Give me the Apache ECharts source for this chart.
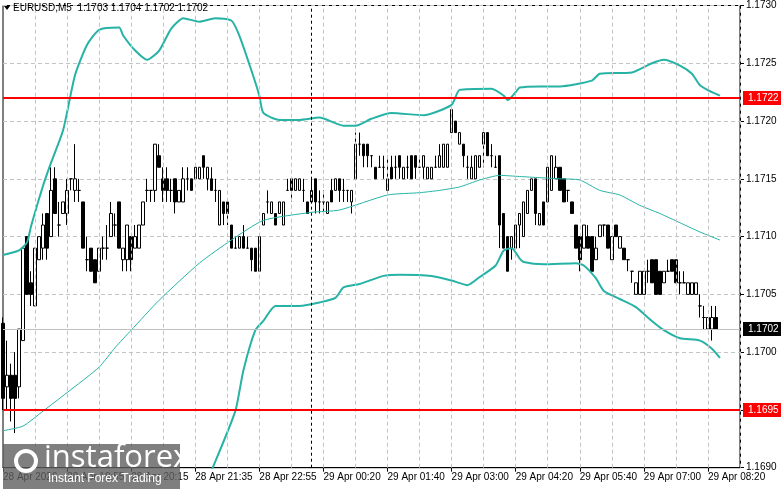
<!DOCTYPE html>
<html><head><meta charset="utf-8">
<script src="https://cdn.jsdelivr.net/npm/echarts@6/dist/echarts.min.js"></script>
<style>html,body{margin:0;padding:0;background:#fff}#c{width:781px;height:489px}</style>
</head><body><div id="c"></div>
<script>
// [open, close, low, high]
const ohlc = [
[1.17025,1.1696,1.1695,1.1703],[1.1697,1.1698,1.1695,1.1701],[1.1698,1.1696,1.1694,1.1699],[1.1698,1.1696,1.1693,1.1700],
[1.1697,1.1702,1.1696,1.1702],[1.1701,1.1709,1.1701,1.1709],[1.1710,1.1705,1.1705,1.1710],[1.1706,1.1705,1.1704,1.1707],
[1.1704,1.1709,1.1704,1.1709],[1.1708,1.1710,1.1708,1.1710],[1.1709,1.1711,1.1708,1.1712],[1.1712,1.1709,1.1708,1.1712],
[1.1710,1.1714,1.1710,1.1716],[1.1715,1.1712,1.1712,1.1716],[1.1711,1.1711,1.1710,1.1713],[1.1712,1.1713,1.1712,1.1713],
[1.1712,1.1714,1.1711,1.1715],[1.1715,1.1715,1.1714,1.1715],[1.1714,1.1715,1.1713,1.1718],[1.1714,1.1714,1.1713,1.1715],
[1.1713,1.1709,1.1709,1.1713],[1.1708,1.1708,1.1707,1.1710],[1.1709,1.1707,1.1707,1.1709],[1.1708,1.1706,1.1706,1.1708],
[1.1707,1.1709,1.1707,1.1709],[1.1709,1.1709,1.1708,1.1710],[1.1709,1.1709,1.1708,1.1711],[1.1710,1.1712,1.1710,1.1713],
[1.1711,1.1711,1.1710,1.1712],[1.1713,1.1709,1.1709,1.1713],[1.1708,1.1709,1.1707,1.1709],[1.1708,1.1711,1.1707,1.1711],
[1.1710,1.1708,1.1707,1.1710],[1.1709,1.1710,1.1709,1.1711],[1.1709,1.1711,1.1709,1.1711],[1.1711,1.1713,1.1711,1.1713],
[1.1714,1.1714,1.1713,1.1715],[1.1714,1.1714,1.1713,1.1714],[1.1714,1.1718,1.1713,1.1718],[1.1717,1.1716,1.1716,1.1718],
[1.1715,1.1714,1.1713,1.1716],[1.1715,1.1714,1.1713,1.1716],[1.1714,1.1714,1.1713,1.1715],[1.1715,1.1713,1.1712,1.1715],
[1.1713,1.1714,1.1713,1.1714],[1.1713,1.1715,1.1713,1.1716],[1.1715,1.1715,1.1714,1.1716],[1.1715,1.1714,1.1714,1.1715],
[1.1715,1.1716,1.1715,1.1716],[1.1715,1.1716,1.1715,1.1716],[1.1717,1.1716,1.1715,1.1717],[1.1715,1.1716,1.1714,1.1716],
[1.1715,1.1714,1.1714,1.1716],[1.1714,1.1714,1.1713,1.1715],[1.1711,1.1714,1.1711,1.1714],[1.1713,1.1712,1.1711,1.1713],
[1.1713,1.1712,1.1711,1.1713],[1.1711,1.1709,1.1709,1.1711],[1.1709,1.1709,1.1709,1.1710],[1.1709,1.1710,1.1709,1.1710],
[1.1710,1.1709,1.1709,1.1711],[1.1709,1.1709,1.1709,1.1710],[1.1709,1.1708,1.1707,1.1709],[1.1709,1.1707,1.1707,1.1709],
[1.1707,1.1710,1.1707,1.1710],[1.1711,1.1712,1.1711,1.1712],[1.1713,1.1713,1.1712,1.1714],[1.1712,1.1713,1.1712,1.1713],
[1.1712,1.1711,1.1711,1.1712],[1.1712,1.1713,1.1712,1.1713],[1.1711,1.1713,1.1711,1.1713],[1.1714,1.1714,1.1714,1.1715],
[1.1715,1.1714,1.1713,1.1715],[1.1714,1.1715,1.1714,1.1715],[1.1714,1.1715,1.1714,1.1715],[1.1714,1.1714,1.1713,1.1715],
[1.1713,1.1712,1.1712,1.1713],[1.1713,1.1714,1.1713,1.1715],[1.1715,1.1713,1.1712,1.1715],[1.1713,1.1713,1.1712,1.1714],
[1.1713,1.1713,1.1712,1.1714],[1.1712,1.1713,1.1712,1.1713],[1.1714,1.1713,1.1713,1.1715],[1.1714,1.1715,1.1714,1.1715],
[1.1715,1.1714,1.1713,1.1715],[1.1714,1.1714,1.1713,1.1715],[1.1714,1.1714,1.1713,1.1714],[1.1713,1.1714,1.1712,1.1714],
[1.1715,1.1718,1.1715,1.1719],[1.1718,1.1718,1.1717,1.1719],[1.1718,1.1717,1.1716,1.1718],[1.1718,1.1717,1.1716,1.1718],
[1.1717,1.1717,1.1716,1.1717],[1.1716,1.1715,1.1715,1.1716],[1.1716,1.1716,1.1716,1.1717],[1.1716,1.1716,1.1715,1.1717],
[1.1714,1.1715,1.1714,1.1717],[1.1716,1.1715,1.1715,1.1717],[1.1716,1.1716,1.1715,1.1717],[1.1717,1.1716,1.1715,1.1717],
[1.1715,1.1716,1.1715,1.1716],[1.1716,1.1716,1.1715,1.1717],[1.1717,1.1715,1.1715,1.1717],[1.1717,1.1716,1.1715,1.1717],
[1.1716,1.1716,1.1716,1.1717],[1.1716,1.1717,1.1715,1.1717],[1.1715,1.1716,1.1715,1.1716],[1.1715,1.1716,1.1715,1.1716],
[1.1716,1.1716,1.1716,1.1717],[1.1716,1.1717,1.1716,1.1718],[1.1716,1.1718,1.1716,1.1718],[1.1716,1.1718,1.1716,1.1718],
[1.1719,1.1721,1.1719,1.1721],[1.1720,1.1719,1.1719,1.1720],[1.1718,1.1719,1.1718,1.1719],[1.1718,1.1717,1.1716,1.1718],
[1.1716,1.1716,1.1715,1.1717],[1.1715,1.1716,1.1715,1.1717],[1.1715,1.1717,1.1715,1.1717],[1.1716,1.1717,1.1716,1.1717],
[1.1718,1.1719,1.1716,1.1719],[1.1719,1.1717,1.1717,1.1719],[1.1717,1.1717,1.1716,1.1718],[1.1716,1.1716,1.1716,1.1717],
[1.1717,1.1711,1.1709,1.1717],[1.1712,1.1709,1.1709,1.1712],[1.1710,1.1707,1.1707,1.1710],[1.1709,1.1710,1.1708,1.1710],
[1.1709,1.1711,1.1709,1.1711],[1.1711,1.1712,1.1709,1.1712],[1.1710,1.1713,1.1710,1.1713],[1.1712,1.1714,1.1712,1.1714],
[1.1714,1.1715,1.1714,1.1715],[1.1715,1.1712,1.1711,1.1715],[1.1711,1.1712,1.1711,1.1712],[1.1713,1.1711,1.1711,1.1713],
[1.1713,1.1716,1.1713,1.1716],[1.1714,1.1717,1.1714,1.1717],[1.1715,1.1716,1.1715,1.1717],[1.1716,1.1714,1.1714,1.1716],
[1.1715,1.1713,1.1713,1.1715],[1.1714,1.1714,1.1713,1.1714],[1.1713,1.1712,1.1712,1.1713],[1.1711,1.1709,1.1709,1.1711],
[1.1710,1.1708,1.1707,1.1710],[1.1709,1.1711,1.1709,1.1711],[1.1710,1.1709,1.1709,1.1711],[1.1710,1.1707,1.1707,1.1710],
[1.1708,1.1709,1.1708,1.1710],[1.1710,1.1711,1.1710,1.1711],[1.1711,1.1711,1.1710,1.1711],[1.1711,1.1709,1.1709,1.1711],
[1.1708,1.1710,1.1708,1.1710],[1.1711,1.1710,1.1710,1.1711],[1.1709,1.1710,1.1709,1.1710],[1.1709,1.1708,1.1708,1.1709],
[1.1708,1.1708,1.1707,1.1708],[1.1707,1.1707,1.1706,1.1707],[1.1705,1.1706,1.1705,1.1706],[1.1705,1.1707,1.1705,1.1707],
[1.1705,1.1707,1.1705,1.1707],[1.1707,1.1707,1.1706,1.1708],[1.1708,1.1706,1.1706,1.1708],[1.1708,1.1705,1.1705,1.1708],
[1.1707,1.1705,1.1705,1.1707],[1.1706,1.1707,1.1706,1.1707],[1.1707,1.1707,1.1707,1.1708],[1.1708,1.1707,1.1707,1.1708],
[1.1708,1.1706,1.1706,1.1708],[1.1706,1.1706,1.1705,1.1707],[1.1706,1.1706,1.1706,1.1707],[1.1705,1.1706,1.1705,1.1706],
[1.1705,1.1706,1.1705,1.1706],[1.1705,1.1706,1.1705,1.1706],[1.1704,1.1704,1.1703,1.1705],[1.1703,1.1703,1.1702,1.1704],
[1.1702,1.1703,1.1702,1.1703],[1.1702,1.1703,1.1701,1.1704],[1.1703,1.1702,1.1702,1.1704]
];
const upperBand = [[0,1.17084],[4,1.17088],[6,1.17095],[7,1.17109],[10,1.17144],[12,1.17164],[15,1.17192],[18,1.1724],[21,1.17266],[24,1.17279],[29,1.17281],[30,1.17274],[33,1.17261],[36,1.17253],[39,1.17261],[42,1.1728],[45,1.17289],[49,1.17286],[53,1.17289],[57,1.17287],[59,1.17274],[62,1.17244],[64,1.17222],[65,1.17207],[69,1.17201],[74,1.17201],[79,1.17203],[85,1.17196],[88,1.17196],[92,1.17202],[97,1.17207],[105,1.17205],[112,1.17214],[114,1.17227],[122,1.17228],[125,1.17222],[126,1.17218],[128,1.17225],[129,1.17229],[134,1.1723],[139,1.1723],[147,1.17235],[149,1.17241],[157,1.17242],[162,1.1725],[165,1.17253],[169,1.17248],[172,1.17241],[174,1.17231],[177,1.17225],[179,1.17222]];
const middleBand = [[0,1.16932],[5,1.16936],[10,1.16949],[16,1.16965],[24,1.16987],[28,1.17004],[32,1.17019],[39,1.17045],[49,1.17077],[57,1.17097],[65,1.17114],[77,1.17121],[84,1.17123],[96,1.17136],[104,1.17138],[109,1.1714],[114,1.17143],[119,1.17149],[124,1.17153],[129,1.17152],[134,1.17151],[139,1.1715],[144,1.17149],[149,1.1714],[154,1.17136],[159,1.17127],[164,1.1712],[169,1.17112],[174,1.17104],[179,1.17097]];
const lowerBand = [[44,1.1685],[49,1.16873],[52,1.16897],[58,1.16949],[60,1.16984],[63,1.17019],[65,1.17027],[68,1.1704],[74,1.1704],[79,1.17043],[83,1.17047],[85,1.17056],[89,1.17059],[95,1.17066],[99,1.17067],[107,1.17066],[112,1.17062],[116,1.17058],[119,1.17065],[123,1.17075],[125,1.17088],[127,1.1709],[129,1.17081],[130,1.17078],[135,1.17076],[143,1.17077],[145,1.17075],[148,1.17064],[150,1.17053],[154,1.17046],[158,1.17039],[162,1.17027],[165,1.17019],[169,1.17012],[174,1.1701],[177,1.17003],[179,1.16995]];
const tickLabels = ["28 Apr 2026","28 Apr 18:55","28 Apr 20:15","28 Apr 21:35","28 Apr 22:55","29 Apr 00:20","29 Apr 01:40","29 Apr 03:00","29 Apr 04:20","29 Apr 05:40","29 Apr 07:00","29 Apr 08:20"];
const levels = {resistance:1.1722, support:1.1695, last:1.1702};
const categoryCount = 185;
const categories = Array.from({length:categoryCount},(_, i)=>String(i));

const FONT = '"Liberation Sans", Arial, sans-serif';
const vGrid = [];
for (let i=8;i<categoryCount;i+=8) vGrid.push({xAxis:i,lineStyle:{color:'#c4c4c4',type:[4,3],width:1}});
const lvlLabel = (v,bg)=>({show:true,position:'end',formatter:v.toFixed(4),backgroundColor:bg,color:'#fff',fontSize:10,fontFamily:FONT,padding:[2,5],distance:3});
const hLine = (v,color,width,bg)=>[
  {coord:[0,v],lineStyle:{color:color,type:'solid',width:width},label:lvlLabel(v,bg)},
  {coord:[categoryCount-1,v]}];
const chart = echarts.init(document.getElementById('c'));
const teal = '#26b3a6';
chart.setOption({
  animation:false,
  grid:{left:3,right:41,top:5.5,bottom:21.3,show:true,borderColor:'#000',borderWidth:1},
  xAxis:{type:'category',data:categories,boundaryGap:false,
    axisLine:{lineStyle:{color:'#000'}},
    axisTick:{show:true,interval:(i)=>i%16===0,length:4,lineStyle:{color:'#000'}},
    axisLabel:{interval:(i)=>i%16===0,align:'left',margin:5,fontSize:10,fontFamily:FONT,color:'#000',
      formatter:(v,i)=>tickLabels[i/16]||''},
    splitLine:{show:false}},
  yAxis:{type:'value',position:'right',min:1.1690,max:1.1730,interval:0.0005,
    axisLine:{show:true,lineStyle:{color:'#000'}},
    axisTick:{show:true,length:4,lineStyle:{color:'#000'}},
    axisLabel:{formatter:v=>v.toFixed(4),fontSize:10,fontFamily:FONT,color:'#000',margin:6},
    splitLine:{lineStyle:{color:'#c4c4c4',type:[4,3]}}},
  series:[
    {type:'line',data:[],silent:true,z:1,
      markLine:{silent:true,symbol:'none',animation:false,label:{show:false},data:vGrid.concat([{xAxis:77,lineStyle:{color:'#000',type:[3,3],width:1}}])}},
    {type:'candlestick',data:ohlc,barWidth:3,z:2,
      itemStyle:{color:'#fff',color0:'#000',borderColor:'#000',borderColor0:'#000',borderWidth:1}},
    {type:'line',data:upperBand,showSymbol:false,smooth:0.2,lineStyle:{color:teal,width:2},z:3},
    {type:'line',data:middleBand,showSymbol:false,smooth:0.2,lineStyle:{color:teal,width:1},z:3,
      markLine:{silent:true,symbol:'none',animation:false,data:[
        hLine(levels.last,'#c0c0c0',1,'#000'),
        hLine(levels.resistance,'#ff0000',2,'#ff0000'),
        hLine(levels.support,'#ff0000',2,'#ff0000')
      ]}},
    {type:'line',data:lowerBand,showSymbol:false,smooth:0.2,lineStyle:{color:teal,width:2},z:3}
  ],
  graphic:[
    {type:'polygon',shape:{points:[[4,6],[10,6],[7,10]]},style:{fill:'#000'},z:10},
    {type:'text',left:13,top:3,style:{text:'EURUSD,M5  1.1703 1.1704 1.1702 1.1702',fontSize:10,fontFamily:FONT,fill:'#000'},z:10},
    {type:'rect',shape:{x:3,y:444,width:177,height:45},style:{fill:'rgba(95,95,95,0.8)'},z:20},
    {type:'circle',shape:{cx:26,cy:461,r:10},style:{fill:'none',stroke:'#fff',lineWidth:4},z:21},
    {type:'text',left:44,top:443,style:{text:'instaforex',fontSize:31,fontFamily:'"Open Sans", sans-serif',fill:'#fff'},z:21},
    {type:'text',left:48,top:473,style:{text:'Instant Forex Trading',fontSize:12,fontFamily:FONT,fill:'#fff'},z:21}
  ]
});
</script></body></html>
